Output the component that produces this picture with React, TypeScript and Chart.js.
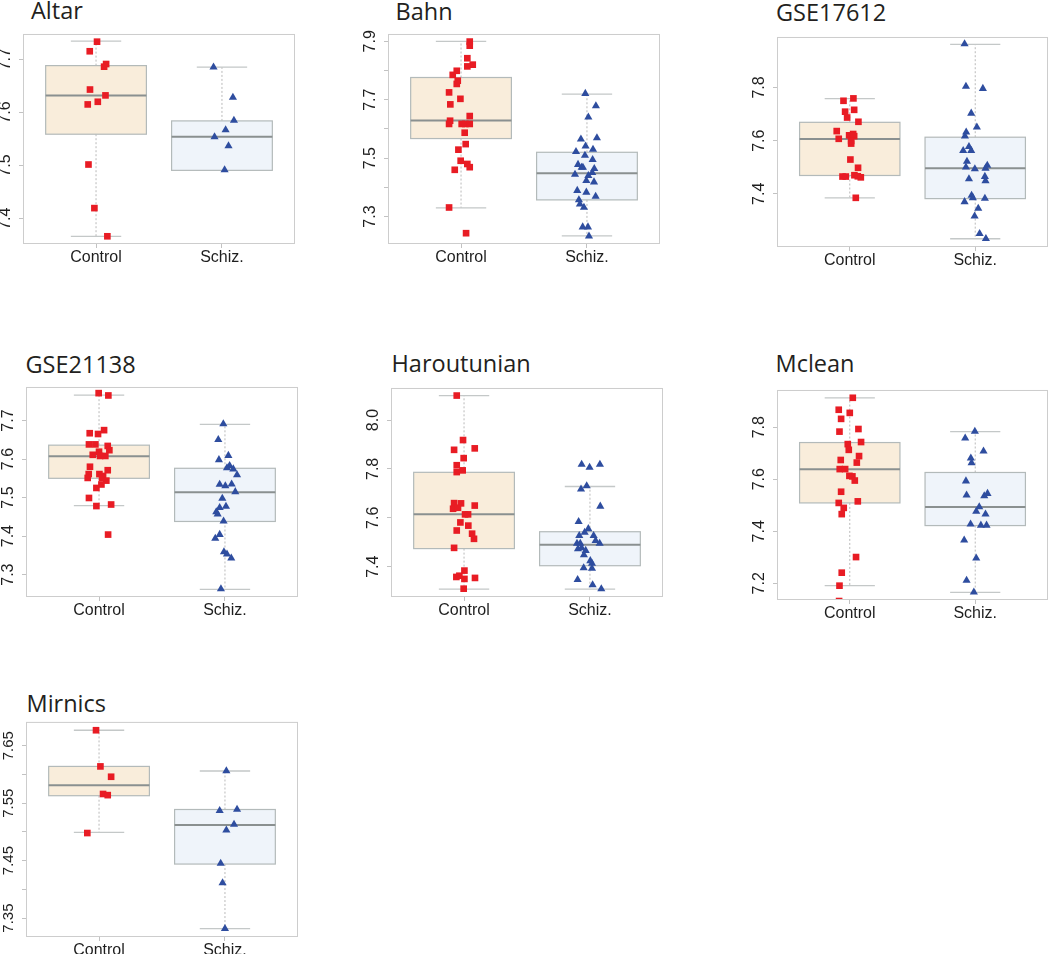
import React, { useEffect, useRef } from "react";
import { Chart, registerables } from "chart.js";

Chart.register(...registerables);

const categories = ["Control", "Schiz."];

// Box stats: [lower whisker, Q1, median, Q3, upper whisker]

// Altar
const altarControl = [7.733, 7.715, 7.691, 7.686, 7.643, 7.632, 7.615, 7.62, 7.502, 7.42, 7.367];
const altarControlJitter = [0.008, -0.05, 0.08, 0.064, -0.048, 0.075, -0.066, 0.014, -0.06, -0.013, 0.09];
const altarSchiz = [7.685, 7.628, 7.585, 7.567, 7.554, 7.537, 7.492];
const altarSchizJitter = [-0.067, 0.087, 0.095, 0.029, -0.059, 0.052, 0.021];
const altarControlBox = [7.367, 7.559, 7.632, 7.688, 7.734];
const altarSchizBox = [7.491, 7.491, 7.554, 7.584, 7.685];
const altarYRange = [7.3525, 7.7475];
const altarYTicks = [7.4, 7.5, 7.6, 7.7];
const altarYLabels = ["7.4", "7.5", "7.6", "7.7"];

// Bahn
const bahnControl = [7.899, 7.885, 7.842, 7.82, 7.814, 7.799, 7.785, 7.765, 7.754, 7.725, 7.703, 7.684, 7.644, 7.628, 7.617, 7.617, 7.617, 7.617, 7.587, 7.548, 7.529, 7.491, 7.48, 7.469, 7.46, 7.331, 7.243];
const bahnControlJitter = [0.069, 0.069, 0.05, 0.093, 0.05, -0.034, -0.066, -0.026, -0.034, -0.095, -0.005, -0.085, 0.069, -0.087, -0.095, 0.005, 0.034, 0.069, 0.029, 0.037, -0.021, -0.003, 0.05, 0.069, -0.05, -0.095, 0.04];
const bahnSchiz = [7.721, 7.679, 7.64, 7.565, 7.569, 7.541, 7.53, 7.522, 7.509, 7.495, 7.478, 7.468, 7.468, 7.464, 7.45, 7.444, 7.44, 7.423, 7.418, 7.389, 7.383, 7.369, 7.357, 7.342, 7.331, 7.264, 7.264, 7.233];
const bahnSchizJitter = [-0.013, 0.071, 0.011, -0.048, 0.079, -0.011, 0.048, -0.087, -0.016, 0.045, -0.071, -0.042, -0.032, 0.058, 0.042, -0.095, 0.011, -0.005, 0.056, -0.077, -0.005, 0.069, -0.064, -0.056, -0.024, -0.034, 0.008, 0.016];
const bahnControlBox = [7.33, 7.567, 7.629, 7.776, 7.9];
const bahnSchizBox = [7.234, 7.357, 7.448, 7.52, 7.719];
const bahnYRange = [7.206, 7.925];
const bahnYTicks = [7.3, 7.4, 7.5, 7.6, 7.7, 7.8, 7.9];
const bahnYLabels = ["7.3", "", "7.5", "", "7.7", "", "7.9"];

// GSE17612
const gse17612Control = [7.759, 7.75, 7.716, 7.709, 7.687, 7.671, 7.636, 7.607, 7.62, 7.625, 7.617, 7.599, 7.589, 7.529, 7.498, 7.465, 7.465, 7.47, 7.466, 7.462, 7.385];
const gse17612ControlJitter = [0.029, -0.05, 0.035, -0.037, -0.021, 0.069, -0.104, -0.088, -0.005, 0.027, 0.035, 0.011, 0.011, 0.005, 0.066, -0.058, -0.032, 0.037, 0.064, 0.088, 0.048];
const gse17612Schiz = [7.964, 7.804, 7.796, 7.703, 7.651, 7.632, 7.617, 7.577, 7.562, 7.562, 7.522, 7.5, 7.494, 7.507, 7.496, 7.456, 7.465, 7.449, 7.394, 7.385, 7.383, 7.37, 7.345, 7.316, 7.25, 7.231];
const gse17612SchizJitter = [-0.085, -0.074, 0.061, -0.032, 0.013, -0.072, -0.082, -0.05, -0.096, -0.032, -0.066, -0.074, -0.003, 0.096, 0.082, -0.05, 0.077, 0.082, -0.029, -0.019, 0.077, -0.085, 0.024, -0.005, 0.035, 0.085];
const gse17612ControlBox = [7.385, 7.469, 7.606, 7.669, 7.758];
const gse17612SchizBox = [7.231, 7.382, 7.496, 7.613, 7.962];
const gse17612YRange = [7.2, 7.99];
const gse17612YTicks = [7.4, 7.6, 7.8];
const gse17612YLabels = ["7.4", "7.6", "7.8"];

// GSE21138
const gse21138Control = [7.771, 7.765, 7.675, 7.667, 7.665, 7.638, 7.638, 7.634, 7.623, 7.619, 7.611, 7.608, 7.608, 7.58, 7.571, 7.561, 7.551, 7.561, 7.556, 7.551, 7.544, 7.534, 7.525, 7.499, 7.478, 7.482, 7.404];
const gse21138ControlJitter = [-0.003, 0.074, 0.04, -0.074, -0.008, -0.08, -0.029, 0.069, 0.082, 0, -0.05, 0.008, 0.05, -0.072, 0.069, -0.082, -0.09, 0.003, 0.032, 0.024, 0.058, 0.019, -0.021, -0.08, -0.021, 0.096, 0.072];
const gse21138Schiz = [7.691, 7.65, 7.609, 7.598, 7.583, 7.577, 7.574, 7.559, 7.534, 7.53, 7.535, 7.515, 7.498, 7.477, 7.474, 7.463, 7.457, 7.439, 7.404, 7.394, 7.359, 7.353, 7.343, 7.263];
const gse21138SchizJitter = [-0.013, -0.053, 0.027, -0.048, 0.037, 0.016, 0.066, 0.096, -0.042, 0.003, 0.053, 0.082, -0.021, 0.008, -0.042, -0.069, -0.058, -0.011, -0.042, -0.077, -0.008, 0.016, 0.05, -0.032];
const gse21138ControlBox = [7.479, 7.55, 7.607, 7.636, 7.766];
const gse21138SchizBox = [7.262, 7.438, 7.514, 7.576, 7.69];
const gse21138YRange = [7.242, 7.787];
const gse21138YTicks = [7.3, 7.4, 7.5, 7.6, 7.7];
const gse21138YLabels = ["7.3", "7.4", "7.5", "7.6", "7.7"];

// Haroutunian
const harControl = [8.1, 7.918, 7.878, 7.884, 7.844, 7.815, 7.794, 7.787, 7.66, 7.659, 7.65, 7.637, 7.641, 7.614, 7.614, 7.581, 7.568, 7.548, 7.535, 7.514, 7.477, 7.384, 7.358, 7.363, 7.35, 7.354, 7.31];
const harControlJitter = [-0.058, -0.008, -0.079, 0.085, -0.003, -0.058, -0.011, -0.058, -0.079, -0.024, 0.085, -0.087, -0.048, 0.008, 0.032, -0.029, 0.034, -0.058, 0.064, 0.079, -0.079, 0.003, -0.061, -0.037, 0.003, 0.087, -0.003];
const harSchiz = [7.818, 7.806, 7.818, 7.73, 7.717, 7.647, 7.584, 7.555, 7.54, 7.527, 7.527, 7.506, 7.495, 7.495, 7.495, 7.473, 7.477, 7.466, 7.448, 7.424, 7.413, 7.395, 7.393, 7.347, 7.325, 7.309];
const harSchizJitter = [-0.066, -0.003, 0.079, -0.026, -0.071, 0.082, -0.09, -0.013, -0.042, -0.085, 0.029, 0.045, 0.077, -0.103, -0.077, -0.095, -0.066, -0.034, -0.048, 0.003, 0.016, -0.05, 0.016, -0.098, 0.021, 0.09];
const harControlBox = [7.308, 7.474, 7.614, 7.786, 8.1];
const harSchizBox = [7.308, 7.404, 7.49, 7.543, 7.728];
const harYRange = [7.276, 8.131];
const harYTicks = [7.4, 7.6, 7.8, 8.0];
const harYLabels = ["7.4", "7.6", "7.8", "8.0"];

// Mclean
const mcleanControl = [7.913, 7.867, 7.855, 7.832, 7.793, 7.783, 7.743, 7.735, 7.713, 7.689, 7.674, 7.664, 7.639, 7.639, 7.613, 7.611, 7.595, 7.552, 7.509, 7.515, 7.49, 7.466, 7.301, 7.241, 7.191, 7.132];
const mcleanControlJitter = [0.024, -0.088, 0, -0.069, 0.069, -0.082, 0.09, -0.016, -0.008, 0.074, -0.072, 0.056, -0.08, -0.037, -0.003, 0.021, 0.04, -0.069, -0.088, 0.064, -0.048, -0.064, 0.05, -0.064, -0.082, -0.085];
const mcleanSchiz = [7.784, 7.758, 7.708, 7.681, 7.663, 7.593, 7.539, 7.545, 7.536, 7.494, 7.476, 7.466, 7.427, 7.423, 7.423, 7.366, 7.297, 7.211, 7.166];
const mcleanSchizJitter = [-0.003, -0.08, 0.066, -0.035, -0.029, -0.074, -0.069, 0.098, 0.072, 0.032, 0.008, 0.082, -0.037, 0.045, 0.09, -0.088, 0.008, -0.069, -0.011];
const mcleanControlBox = [7.191, 7.509, 7.638, 7.741, 7.913];
const mcleanSchizBox = [7.165, 7.422, 7.493, 7.626, 7.783];
const mcleanYRange = [7.136, 7.943];
const mcleanYTicks = [7.2, 7.4, 7.6, 7.8];
const mcleanYLabels = ["7.2", "7.4", "7.6", "7.8"];

// Mirnics
const mirnicsControl = [7.677, 7.614, 7.596, 7.566, 7.564, 7.498];
const mirnicsControlJitter = [-0.024, 0.011, 0.096, 0.032, 0.069, -0.093];
const mirnicsSchiz = [7.606, 7.537, 7.539, 7.513, 7.503, 7.445, 7.411, 7.3315];
const mirnicsSchizJitter = [0.011, -0.042, 0.096, 0.072, 0.011, -0.034, -0.019, 0];
const mirnicsControlBox = [7.499, 7.563, 7.581, 7.614, 7.677];
const mirnicsSchizBox = [7.3315, 7.444, 7.512, 7.539, 7.606];
const mirnicsYRange = [7.317, 7.6915];
const mirnicsYTicks = [7.35, 7.4, 7.45, 7.5, 7.55, 7.6, 7.65];
const mirnicsYLabels = ["7.35", "", "7.45", "", "7.55", "", "7.65"];

type Panel = {
  title: string;
  control: number[];
  controlJitter: number[];
  schiz: number[];
  schizJitter: number[];
  controlBox: number[];
  schizBox: number[];
  yRange: number[];
  yTicks: number[];
  yLabels: string[];
};

const panels: Panel[] = [
  { title: "Altar", control: altarControl, controlJitter: altarControlJitter, schiz: altarSchiz, schizJitter: altarSchizJitter, controlBox: altarControlBox, schizBox: altarSchizBox, yRange: altarYRange, yTicks: altarYTicks, yLabels: altarYLabels },
  { title: "Bahn", control: bahnControl, controlJitter: bahnControlJitter, schiz: bahnSchiz, schizJitter: bahnSchizJitter, controlBox: bahnControlBox, schizBox: bahnSchizBox, yRange: bahnYRange, yTicks: bahnYTicks, yLabels: bahnYLabels },
  { title: "GSE17612", control: gse17612Control, controlJitter: gse17612ControlJitter, schiz: gse17612Schiz, schizJitter: gse17612SchizJitter, controlBox: gse17612ControlBox, schizBox: gse17612SchizBox, yRange: gse17612YRange, yTicks: gse17612YTicks, yLabels: gse17612YLabels },
  { title: "GSE21138", control: gse21138Control, controlJitter: gse21138ControlJitter, schiz: gse21138Schiz, schizJitter: gse21138SchizJitter, controlBox: gse21138ControlBox, schizBox: gse21138SchizBox, yRange: gse21138YRange, yTicks: gse21138YTicks, yLabels: gse21138YLabels },
  { title: "Haroutunian", control: harControl, controlJitter: harControlJitter, schiz: harSchiz, schizJitter: harSchizJitter, controlBox: harControlBox, schizBox: harSchizBox, yRange: harYRange, yTicks: harYTicks, yLabels: harYLabels },
  { title: "Mclean", control: mcleanControl, controlJitter: mcleanControlJitter, schiz: mcleanSchiz, schizJitter: mcleanSchizJitter, controlBox: mcleanControlBox, schizBox: mcleanSchizBox, yRange: mcleanYRange, yTicks: mcleanYTicks, yLabels: mcleanYLabels },
  { title: "Mirnics", control: mirnicsControl, controlJitter: mirnicsControlJitter, schiz: mirnicsSchiz, schizJitter: mirnicsSchizJitter, controlBox: mirnicsControlBox, schizBox: mirnicsSchizBox, yRange: mirnicsYRange, yTicks: mirnicsYTicks, yLabels: mirnicsYLabels },
];

// Layout (page pixels): plot frame and title position
const layouts = [
  { left: 23, top: 28, w: 272, h: 216, tx: 31, tb: 19.8, yFont: 16 },
  { left: 388, top: 28, w: 272, h: 216, tx: 395.5, tb: 20.5, yFont: 16 },
  { left: 777, top: 31, w: 271, h: 216, tx: 776, tb: 21.2, yFont: 16 },
  { left: 26, top: 381, w: 272, h: 216, tx: 25.5, tb: 373.8, yFont: 16 },
  { left: 391, top: 382, w: 272, h: 215, tx: 391.5, tb: 372.8, yFont: 16 },
  { left: 777, top: 384, w: 271, h: 216, tx: 775.5, tb: 372.8, yFont: 16 },
  { left: 26, top: 720, w: 272, h: 217, tx: 26.5, tb: 712.8, yFont: 15 },
];

const AXW = 34;
const AXH = 34;
const PT = 6;
const PR = 6;
const TICK_LEN = 4;
const LABEL_OFFSET = 17.5;
const FONT_FAMILY = "'Liberation Sans', Arial, Helvetica, sans-serif";

const RED = "#e81c24";
const BLUE = "#2e4d9f";
const CONTROL_FILL = "#f9eddb";
const SCHIZ_FILL = "#eff4fa";
const TICK_COLOR = "#c2c2c2";
const FRAME_COLOR = "#cdcdcd";
const TEXT_COLOR = "#1e1e1e";

function makeBoxPlugin(boxes: { center: number; stats: number[]; fill: string }[]) {
  return {
    id: "boxplots",
    beforeDatasetsDraw(chart: any) {
      const { ctx } = chart;
      const x = chart.scales.x;
      const y = chart.scales.y;
      ctx.save();
      for (const b of boxes) {
        const [lo, q1, med, q3, hi] = b.stats;
        const xc = x.getPixelForValue(b.center);
        const xl = x.getPixelForValue(b.center - 0.4);
        const xr = x.getPixelForValue(b.center + 0.4);
        const cl = x.getPixelForValue(b.center - 0.2);
        const cr = x.getPixelForValue(b.center + 0.2);
        const yLo = y.getPixelForValue(lo);
        const yQ1 = y.getPixelForValue(q1);
        const yMed = y.getPixelForValue(med);
        const yQ3 = y.getPixelForValue(q3);
        const yHi = y.getPixelForValue(hi);
        // dotted whiskers
        ctx.strokeStyle = "#b9b9b9";
        ctx.lineWidth = 1;
        ctx.setLineDash([2, 2]);
        ctx.beginPath();
        ctx.moveTo(xc, yQ3);
        ctx.lineTo(xc, yHi);
        ctx.moveTo(xc, yQ1);
        ctx.lineTo(xc, yLo);
        ctx.stroke();
        // caps
        ctx.setLineDash([]);
        ctx.strokeStyle = "#c4c8c8";
        ctx.lineWidth = 1.3;
        ctx.beginPath();
        ctx.moveTo(cl, yHi);
        ctx.lineTo(cr, yHi);
        ctx.moveTo(cl, yLo);
        ctx.lineTo(cr, yLo);
        ctx.stroke();
        // box
        ctx.fillStyle = b.fill;
        ctx.fillRect(xl, yQ3, xr - xl, yQ1 - yQ3);
        ctx.strokeStyle = "#b3baba";
        ctx.lineWidth = 1.2;
        ctx.strokeRect(xl, yQ3, xr - xl, yQ1 - yQ3);
        // median
        ctx.strokeStyle = "#8a9090";
        ctx.lineWidth = 2;
        ctx.beginPath();
        ctx.moveTo(xl, yMed);
        ctx.lineTo(xr, yMed);
        ctx.stroke();
      }
      ctx.restore();
    },
    afterDatasetsDraw(chart: any) {
      const { ctx, chartArea } = chart;
      ctx.save();
      ctx.strokeStyle = FRAME_COLOR;
      ctx.lineWidth = 1;
      ctx.strokeRect(
        chartArea.left + 0.5,
        chartArea.top + 0.5,
        chartArea.right - chartArea.left - 1,
        chartArea.bottom - chartArea.top - 1
      );
      ctx.restore();
    },
  };
}

function PanelChart({ p, lay }: { p: Panel; lay: (typeof layouts)[number] }) {
  const ref = useRef<HTMLCanvasElement>(null);
  const cw = lay.w + AXW + PR;
  const ch = lay.h + PT + AXH;

  useEffect(() => {
    const canvas = ref.current;
    if (!canvas) return;
    const mctx = document.createElement("canvas").getContext("2d")!;
    mctx.font = `${lay.yFont}px ${FONT_FAMILY}`;
    const widest = Math.max(...p.yLabels.map((l) => mctx.measureText(l).width));
    const yPad = LABEL_OFFSET - TICK_LEN - widest / 2;

    const chart = new Chart(canvas, {
      type: "scatter",
      data: {
        datasets: [
          {
            label: "Control",
            data: p.control.map((v, i) => ({ x: 1 + p.controlJitter[i], y: v })),
            pointStyle: "rect",
            pointRadius: 4.7,
            pointHoverRadius: 4.7,
            backgroundColor: RED,
            borderColor: RED,
            borderWidth: 0,
            clip: 0,
          },
          {
            label: "Schiz.",
            data: p.schiz.map((v, i) => ({ x: 2 + p.schizJitter[i], y: v })),
            pointStyle: "triangle",
            pointRadius: 4.7,
            pointHoverRadius: 4.7,
            backgroundColor: BLUE,
            borderColor: BLUE,
            borderWidth: 0,
            clip: 0,
          },
        ],
      },
      options: {
        responsive: false,
        animation: false,
        devicePixelRatio: 1,
        events: [],
        layout: { padding: { left: 0, top: PT, right: PR, bottom: 0 } },
        plugins: {
          legend: { display: false },
          tooltip: { enabled: false },
          title: { display: false },
        },
        scales: {
          x: {
            type: "linear",
            min: 0.42,
            max: 2.58,
            bounds: "data",
            afterBuildTicks: (s: any) => {
              s.ticks = [{ value: 1 }, { value: 2 }];
            },
            afterFit: (s: any) => {
              s.height = AXH;
            },
            ticks: {
              callback: (v: any) => categories[Math.round(Number(v)) - 1] ?? "",
              font: { family: FONT_FAMILY, size: 16 },
              color: TEXT_COLOR,
              padding: 0,
              minRotation: 0,
              maxRotation: 0,
              autoSkip: false,
            },
            grid: { drawOnChartArea: false, drawTicks: true, tickLength: TICK_LEN, color: TICK_COLOR },
            border: { display: false },
          },
          y: {
            type: "linear",
            min: p.yRange[0],
            max: p.yRange[1],
            bounds: "data",
            afterBuildTicks: (s: any) => {
              s.ticks = p.yTicks.map((v) => ({ value: v }));
            },
            afterFit: (s: any) => {
              s.width = AXW;
            },
            ticks: {
              callback: (v: any) => {
                const i = p.yTicks.findIndex((t) => Math.abs(t - Number(v)) < 1e-9);
                return i >= 0 ? p.yLabels[i] : "";
              },
              font: { family: FONT_FAMILY, size: lay.yFont },
              color: TEXT_COLOR,
              minRotation: 90,
              maxRotation: 90,
              crossAlign: "center",
              padding: yPad,
              autoSkip: false,
            },
            grid: { drawOnChartArea: false, drawTicks: true, tickLength: TICK_LEN, color: TICK_COLOR },
            border: { display: false },
          },
        },
      } as any,
      plugins: [
        makeBoxPlugin([
          { center: 1, stats: p.controlBox, fill: CONTROL_FILL },
          { center: 2, stats: p.schizBox, fill: SCHIZ_FILL },
        ]),
      ],
    });
    return () => chart.destroy();
  }, []);

  return (
    <>
      <div
        style={{
          position: "absolute",
          left: lay.tx,
          top: lay.tb - 20.4,
          font: "23.5px 'Open Sans', sans-serif",
          lineHeight: "23px",
          color: "#231f20",
          whiteSpace: "nowrap",
        }}
      >
        {p.title}
      </div>
      <canvas
        ref={ref}
        width={cw}
        height={ch}
        style={{
          position: "absolute",
          left: lay.left - AXW,
          top: lay.top - PT,
          width: cw,
          height: ch,
        }}
      />
    </>
  );
}

export default function App() {
  return (
    <div
      style={{
        position: "absolute",
        left: 0,
        top: 0,
        width: 1050,
        height: 954,
        overflow: "hidden",
        background: "#ffffff",
      }}
    >
      {panels.map((p, i) => (
        <PanelChart key={p.title} p={p} lay={layouts[i]} />
      ))}
    </div>
  );
}
